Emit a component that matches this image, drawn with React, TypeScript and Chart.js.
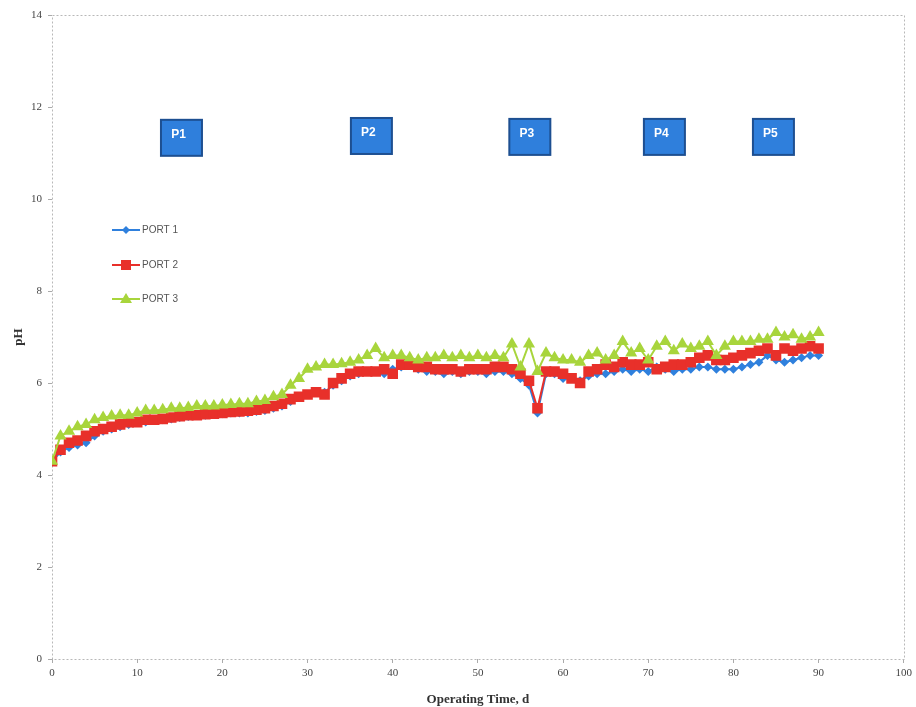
import React, { useEffect, useRef } from "react";
import { Chart, registerables } from "chart.js";

Chart.register(...registerables);

const days = [
  0, 1, 2, 3, 4, 5, 6, 7, 8, 9, 10, 11, 12, 13, 14, 15, 16, 17, 18, 19, 20,
  21, 22, 23, 24, 25, 26, 27, 28, 29, 30, 31, 32, 33, 34, 35, 36, 37, 38, 39, 40,
  41, 42, 43, 44, 45, 46, 47, 48, 49, 50, 51, 52, 53, 54, 55, 56, 57, 58, 59, 60,
  61, 62, 63, 64, 65, 66, 67, 68, 69, 70, 71, 72, 73, 74, 75, 76, 77, 78, 79, 80,
  81, 82, 83, 84, 85, 86, 87, 88, 89, 90,
];

const port1 = [
  4.3, 4.5, 4.6, 4.65, 4.7, 4.85, 4.95, 5.0, 5.05, 5.1, 5.15,
  5.15, 5.2, 5.2, 5.22, 5.25, 5.27, 5.3, 5.3, 5.32, 5.33,
  5.35, 5.35, 5.35, 5.38, 5.4, 5.45, 5.5, 5.6, 5.7, 5.75,
  5.8, 5.8, 5.95, 6.05, 6.15, 6.2, 6.25, 6.25, 6.2, 6.3,
  6.35, 6.4, 6.3, 6.25, 6.25, 6.2, 6.25, 6.2, 6.25, 6.25,
  6.2, 6.25, 6.25, 6.2, 6.1, 5.95, 5.35, 6.2, 6.2, 6.1,
  6.1, 6.05, 6.15, 6.2, 6.2, 6.25, 6.3, 6.25, 6.3, 6.25,
  6.35, 6.3, 6.25, 6.3, 6.3, 6.35, 6.35, 6.3, 6.3, 6.3,
  6.35, 6.4, 6.45, 6.6, 6.5, 6.45, 6.5, 6.55, 6.6, 6.6,
];

const port2 = [
  4.3, 4.55, 4.7, 4.75, 4.85, 4.95, 5.0, 5.05, 5.1, 5.15, 5.15,
  5.2, 5.2, 5.22, 5.25, 5.28, 5.3, 5.3, 5.32, 5.33, 5.35,
  5.37, 5.38, 5.4, 5.42, 5.45, 5.5, 5.55, 5.65, 5.7, 5.75,
  5.8, 5.75, 6.0, 6.1, 6.2, 6.25, 6.25, 6.25, 6.3, 6.2,
  6.4, 6.4, 6.35, 6.35, 6.3, 6.3, 6.3, 6.25, 6.3, 6.3,
  6.3, 6.35, 6.35, 6.3, 6.2, 6.05, 5.45, 6.25, 6.25, 6.2,
  6.1, 6.0, 6.25, 6.3, 6.4, 6.35, 6.45, 6.4, 6.4, 6.45,
  6.3, 6.35, 6.4, 6.4, 6.45, 6.55, 6.6, 6.5, 6.5, 6.55,
  6.6, 6.65, 6.7, 6.75, 6.6, 6.75, 6.7, 6.75, 6.8, 6.75,
];

const port3 = [
  4.3, 4.85, 4.95, 5.05, 5.1, 5.2, 5.25, 5.28, 5.3, 5.3, 5.35,
  5.4, 5.4, 5.42, 5.45, 5.45, 5.47, 5.5, 5.5, 5.5, 5.52,
  5.53, 5.55, 5.55, 5.6, 5.62, 5.7, 5.75, 5.95, 6.1, 6.3,
  6.35, 6.4, 6.4, 6.42, 6.45, 6.5, 6.6, 6.75, 6.55, 6.6,
  6.6, 6.55, 6.5, 6.55, 6.55, 6.6, 6.55, 6.6, 6.55, 6.6,
  6.55, 6.6, 6.55, 6.85, 6.35, 6.85, 6.25, 6.65, 6.55, 6.5,
  6.5, 6.45, 6.6, 6.65, 6.5, 6.6, 6.9, 6.65, 6.75, 6.5,
  6.8, 6.9, 6.7, 6.85, 6.75, 6.8, 6.9, 6.6, 6.8, 6.9,
  6.9, 6.9, 6.95, 6.95, 7.1, 7.0, 7.05, 6.95, 7.0, 7.1,
];

const xTicks = [0, 10, 20, 30, 40, 50, 60, 70, 80, 90, 100];
const yTicks = [0, 2, 4, 6, 8, 10, 12, 14];

const seriesNames = ["PORT 1", "PORT 2", "PORT 3"];
const seriesColors = ["#2f80dd", "#e8302a", "#a8d53c"];

const phaseLabels = ["P1", "P2", "P3", "P4", "P5"];
const phaseX = [15.2, 37.5, 56.1, 71.9, 84.7];
const phaseY = [11.33, 11.37, 11.35, 11.35, 11.35];

function toXY(ys: number[]) {
  return ys.map((v, i) => ({ x: days[i], y: v }));
}

const frame = {
  id: "frame",
  beforeDatasetsDraw(chart: any) {
    const { ctx, chartArea } = chart;
    ctx.save();
    ctx.strokeStyle = "#b8b8b8";
    ctx.lineWidth = 1;
    ctx.setLineDash([2, 2]);
    ctx.strokeRect(
      Math.round(chartArea.left) + 0.5,
      Math.round(chartArea.top) + 0.5,
      Math.round(chartArea.right - chartArea.left),
      Math.round(chartArea.bottom - chartArea.top)
    );
    ctx.restore();
  },
};

function drawMarker(ctx: any, kind: number, x: number, y: number, color: string) {
  ctx.fillStyle = color;
  ctx.beginPath();
  if (kind === 0) {
    ctx.moveTo(x, y - 4);
    ctx.lineTo(x + 4, y);
    ctx.lineTo(x, y + 4);
    ctx.lineTo(x - 4, y);
  } else if (kind === 1) {
    ctx.rect(x - 5, y - 5, 10, 10);
  } else {
    ctx.moveTo(x, y - 6);
    ctx.lineTo(x + 6, y + 4);
    ctx.lineTo(x - 6, y + 4);
  }
  ctx.closePath();
  ctx.fill();
}

const overlay = {
  id: "overlay",
  afterDraw(chart: any) {
    const { ctx } = chart;
    const xs = chart.scales.x;
    const ys = chart.scales.y;
    ctx.save();
    // legend
    const legendY = [230, 265, 299];
    for (let i = 0; i < 3; i++) {
      const y = legendY[i];
      ctx.strokeStyle = seriesColors[i];
      ctx.lineWidth = 2;
      ctx.beginPath();
      ctx.moveTo(112, y);
      ctx.lineTo(140, y);
      ctx.stroke();
      drawMarker(ctx, i, 126, y, seriesColors[i]);
      ctx.fillStyle = "#555";
      ctx.font = "10px 'Liberation Sans'";
      ctx.textAlign = "left";
      ctx.textBaseline = "middle";
      ctx.fillText(seriesNames[i], 142, y);
    }
    // phase boxes
    for (let i = 0; i < phaseLabels.length; i++) {
      const cx = xs.getPixelForValue(phaseX[i]);
      const cy = ys.getPixelForValue(phaseY[i]);
      const w = 41;
      const h = 36;
      ctx.fillStyle = "#2f7fdc";
      ctx.fillRect(cx - w / 2, cy - h / 2, w, h);
      ctx.strokeStyle = "#1d4f91";
      ctx.lineWidth = 2;
      ctx.strokeRect(cx - w / 2, cy - h / 2, w, h);
      ctx.fillStyle = "#ffffff";
      ctx.font = "bold 12px 'Liberation Sans'";
      ctx.textAlign = "center";
      ctx.textBaseline = "middle";
      ctx.fillText(phaseLabels[i], cx - 3, cy - 3);
    }
    ctx.restore();
  },
};

export default function App() {
  const ref = useRef<HTMLCanvasElement | null>(null);

  useEffect(() => {
    document.body.style.margin = "0";
    const canvas = ref.current;
    if (!canvas) return;
    const serif = "'Liberation Serif'";
    const chart = new Chart(canvas, {
      type: "line",
      data: {
        datasets: [
          {
            label: seriesNames[0],
            data: toXY(port1),
            borderColor: seriesColors[0],
            backgroundColor: seriesColors[0],
            borderWidth: 2,
            pointStyle: "rectRot",
            pointRadius: 4.5,
            pointBorderWidth: 0,
            order: 2,
          },
          {
            label: seriesNames[1],
            data: toXY(port2),
            borderColor: seriesColors[1],
            backgroundColor: seriesColors[1],
            borderWidth: 2,
            pointStyle: "rect",
            pointRadius: 7.5,
            pointBorderWidth: 0,
            order: 1,
          },
          {
            label: seriesNames[2],
            data: toXY(port3),
            borderColor: seriesColors[2],
            backgroundColor: seriesColors[2],
            borderWidth: 2,
            pointStyle: "triangle",
            pointRadius: 7,
            pointBorderWidth: 0,
            order: 0,
          },
        ],
      },
      options: {
        animation: false,
        responsive: false,
        maintainAspectRatio: false,
        layout: { padding: { top: 15, right: 10, left: 0, bottom: 0 } },
        plugins: {
          legend: { display: false },
          tooltip: { enabled: false },
        },
        scales: {
          x: {
            type: "linear",
            min: 0,
            max: 100,
            afterBuildTicks: (s: any) => {
              s.ticks = xTicks.map((v) => ({ value: v }));
            },
            afterFit: (s: any) => {
              s.height = 48;
            },
            grid: {
              display: true,
              drawOnChartArea: false,
              drawTicks: true,
              tickLength: 4,
              color: "#aaa",
            },
            border: { display: false },
            ticks: {
              color: "#444",
              font: { family: serif, size: 11 },
              padding: 4,
              maxRotation: 0,
            },
            title: {
              display: true,
              text: "Operating Time, d",
              color: "#333",
              font: { family: serif, size: 13, weight: "bold" },
              padding: { top: 2, bottom: 0 },
            },
          },
          y: {
            type: "linear",
            min: 0,
            max: 14,
            afterBuildTicks: (s: any) => {
              s.ticks = yTicks.map((v) => ({ value: v }));
            },
            afterFit: (s: any) => {
              s.width = 52;
            },
            grid: {
              display: true,
              drawOnChartArea: false,
              drawTicks: true,
              tickLength: 4,
              color: "#aaa",
            },
            border: { display: false },
            ticks: {
              color: "#444",
              font: { family: serif, size: 11 },
              padding: 6,
            },
            title: {
              display: true,
              text: "pH",
              color: "#333",
              font: { family: serif, size: 13, weight: "bold" },
              padding: { top: 11, bottom: 0 },
            },
          },
        },
      },
      plugins: [frame, overlay],
    } as any);
    return () => chart.destroy();
  }, []);

  return (
    <div style={{ width: 916, height: 707, background: "#fff" }}>
      <canvas ref={ref} width={916} height={707} style={{ display: "block" }} />
    </div>
  );
}
